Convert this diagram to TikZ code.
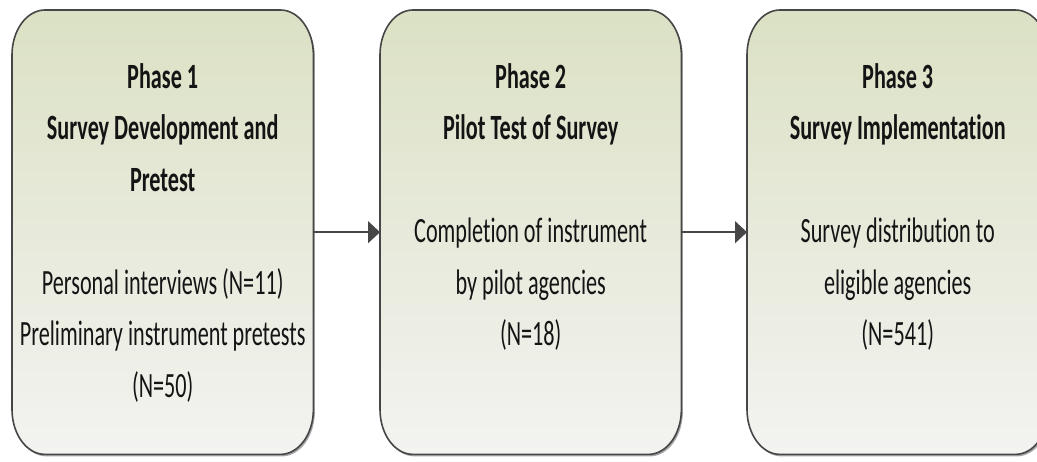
\documentclass[tikz,border=0pt]{standalone}
\usepackage{fontspec}
\setmainfont{Carlito}[FakeStretch=0.625, Ligatures=NoCommon]
\usetikzlibrary{arrows.meta,shadows}

\definecolor{boxtop}{RGB}{219,225,196}
\definecolor{boxbottom}{RGB}{243,243,241}
\definecolor{edge}{RGB}{70,70,70}
\definecolor{ink}{RGB}{20,20,20}

\tikzset{
  phase/.style={rectangle, minimum width=301pt, minimum height=444pt,
    inner sep=0pt, anchor=north west},
  phasetext/.style={anchor=north, inner sep=0pt, align=center, text=ink,
    font=\fontsize{35.5}{51.5}\selectfont},
  outline/.style={draw=edge, line width=1.6pt, top color=boxtop,
    bottom color=boxbottom,
    drop shadow={shadow xshift=1.5pt, shadow yshift=-2pt, opacity=0.35, fill=black}},
  flow/.style={draw=edge, line width=1.4pt, -{Triangle[length=12pt,width=22pt]}}
}

% rounded panel with elliptical corners around a named box node
\newcommand\softpanel[1]{%
  \path[outline]
    ([xshift=33pt]#1.north west) -- ([xshift=-33pt]#1.north east)
    arc[start angle=90, end angle=0, x radius=33pt, y radius=45pt]
    -- ([yshift=45pt]#1.south east)
    arc[start angle=0, end angle=-90, x radius=33pt, y radius=45pt]
    -- ([xshift=33pt]#1.south west)
    arc[start angle=-90, end angle=-180, x radius=33pt, y radius=45pt]
    -- ([yshift=-45pt]#1.north west)
    arc[start angle=180, end angle=90, x radius=33pt, y radius=45pt]
    -- cycle;}

\begin{document}
\begin{tikzpicture}[x=1pt, y=-1pt]
  \useasboundingbox (0,0) rectangle (1037,462);
  \clip (0,0) rectangle (1037,462);

  % panels
  \node[phase] (b1) at (12,10) {};
  \node[phase] (b2) at (380,10) {};
  \node[phase] (b3) at (747,10) {};
  \softpanel{b1}
  \softpanel{b2}
  \softpanel{b3}

  % panel texts
  \node[phasetext] (t1) at ([yshift=-48pt]b1.north)
    {\rule{0pt}{30pt}\textbf{Phase 1}\\ \textbf{Survey Development and}\\
     \textbf{Pretest}\\[51.5pt]
     Personal interviews (N=11)\\ Preliminary instrument pretests\\ (N=50)};
  \node[phasetext] (t2) at ([yshift=-48pt]b2.north)
    {\rule{0pt}{30pt}\textbf{Phase 2}\\ \textbf{Pilot Test of Survey}\\[51.5pt]
     Completion of instrument\\ by pilot agencies\\ (N=18)};
  \node[phasetext] (t3) at ([yshift=-48pt]b3.north)
    {\rule{0pt}{30pt}\textbf{Phase 3}\\ \textbf{Survey Implementation}\\[51.5pt]
     Survey distribution to\\ eligible agencies\\ (N=541)};

  % flow between phases
  \draw[flow] (b1.east) -- (b2.west);
  \draw[flow] (b2.east) -- (b3.west);
\end{tikzpicture}
\end{document}
